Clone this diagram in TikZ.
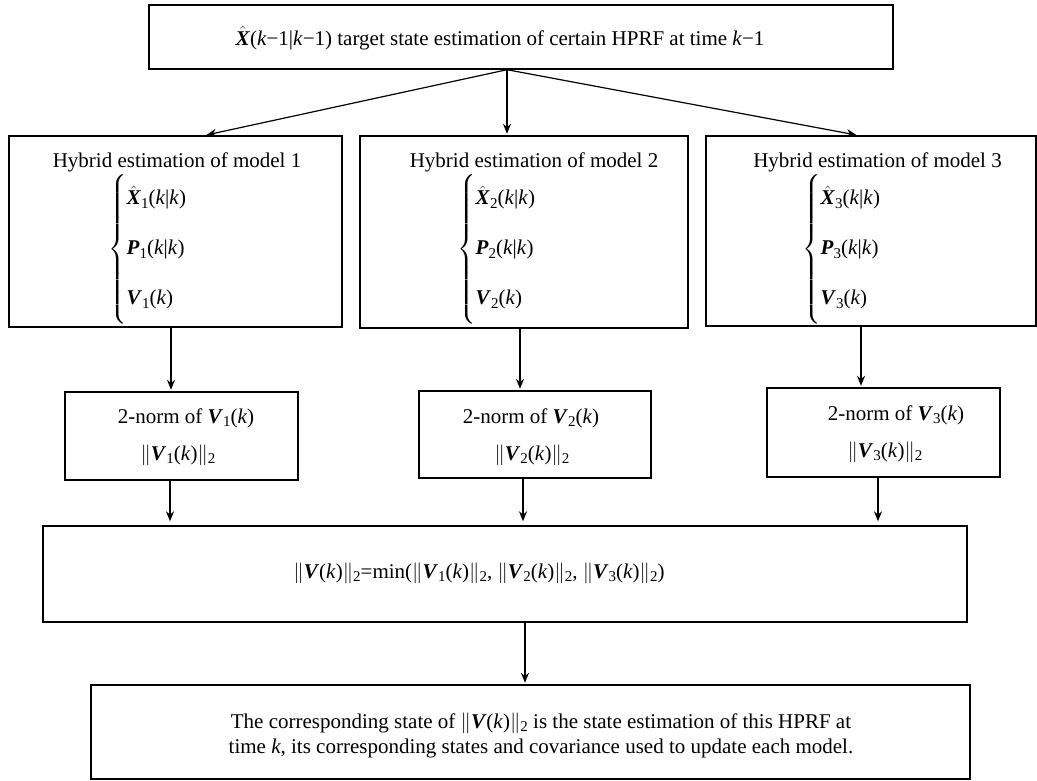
\documentclass[tikz,border=0pt]{standalone}
\usepackage{amsmath}
\usepackage{fontspec}
\setmainfont{Liberation Serif}
\usetikzlibrary{arrows.meta}
\newcommand\bvec[1]{\textbf{\textit{#1}}}
\newcommand\lsub[1]{\raisebox{-0.35ex}{\fontsize{15}{15}\selectfont #1}}
\newcommand\hX{\ensuremath{\hat{\mbox{\bvec{X}}}}}
\newcommand\nrm{\ensuremath{\|}}
\newcommand\ik{\textit{k}}
\newcommand\blist[1]{$\left\{\rule[-68pt]{0pt}{144pt}\begin{array}{@{}l@{}}\mbox{\hX\lsub{#1}(\ik|\ik)}\\[25pt]\mbox{\bvec{P}\lsub{#1}(\ik|\ik)}\\[25pt]\mbox{\bvec{V}\lsub{#1}(\ik)}\end{array}\right.$}
\newcommand\vn[1]{\nrm\bvec{V}\lsub{#1}(\ik)\nrm\lsub{2}}
\begin{document}
\begin{tikzpicture}[x=1pt,y=-1pt,font=\fontsize{21}{25}\selectfont,
  box/.style={draw,line width=1.4pt,inner sep=0pt},
  arr/.style={line width=1.2pt,-{Stealth[length=10pt,width=8pt]},shorten >=1.5pt},
  lbl/.style={anchor=base,inner sep=0pt},
  lst/.style={anchor=west,inner sep=0pt}]
\useasboundingbox (0,0) rectangle (1037,780);
% boxes
\node[box,minimum width=744,minimum height=64] (top) at (521,37) {};
\node[box,minimum width=333,minimum height=191] (m1) at (175.5,231.5) {};
\node[box,minimum width=328,minimum height=192] (m2) at (524,232) {};
\node[box,minimum width=330,minimum height=190] (m3) at (871,231) {};
\node[box,minimum width=233,minimum height=88] (n1) at (181.5,436) {};
\node[box,minimum width=232,minimum height=87] (n2) at (535,434.5) {};
\node[box,minimum width=233,minimum height=89] (n3) at (883.5,432.5) {};
\node[box,minimum width=924,minimum height=96] (mn) at (505,574) {};
\node[box,minimum width=879,minimum height=94] (fin) at (530.5,732) {};
% texts
\node[lbl] (ttop) at (500,45) {\hX(\ik−1|\ik−1) target state estimation of certain HPRF at time \ik−1};
\node[lbl] (t1) at (177,167) {Hybrid estimation of model 1};
\node[lbl] (t2) at (534,167) {Hybrid estimation of model 2};
\node[lbl] (t3) at (877.5,167) {Hybrid estimation of model 3};
\node[lst] (l1) at (108,249) {\blist{1}};
\node[lst] (l2) at (457,249) {\blist{2}};
\node[lst] (l3) at (802,249) {\blist{3}};
\node[lbl] (a1t) at (186,423) {2-norm of \bvec{V}\lsub{1}(\ik)};
\node[lbl] (b1t) at (178,460) {\vn{1}};
\node[lbl] (a2t) at (531,423) {2-norm of \bvec{V}\lsub{2}(\ik)};
\node[lbl] (b2t) at (532,460) {\vn{2}};
\node[lbl] (a3t) at (896,420) {2-norm of \bvec{V}\lsub{3}(\ik)};
\node[lbl] (b3t) at (885,457) {\vn{3}};
\node[lbl] (mnt) at (479,578) {\nrm\bvec{V}(\ik)\nrm\lsub{2}=min(\vn{1}, \vn{2}, \vn{3})};
\node[lbl] (f1) at (541,728) {The corresponding state of \nrm\bvec{V}(\ik)\nrm\lsub{2} is the state estimation of this HPRF at};
\node[lbl] (f2) at (541,753) {time \ik, its corresponding states and covariance used to update each model.};
% connectors
\coordinate (src) at ([xshift=-14]top.south);
\draw[arr] (src) -- ([xshift=29.5]m1.north);
\draw[arr] (src) -- ([xshift=-17]m2.north);
\draw[arr] (src) -- ([xshift=-13]m3.north);
\coordinate (a1) at ([xshift=-4.5]m1.south);
\coordinate (a2) at ([xshift=-4]m2.south);
\coordinate (a3) at ([xshift=-10]m3.south);
\draw[arr] (a1) -- (a1 |- n1.north);
\draw[arr] (a2) -- (a2 |- n2.north);
\draw[arr] (a3) -- (a3 |- n3.north);
\coordinate (b1) at ([xshift=-11.5]n1.south);
\coordinate (b2) at ([xshift=-12]n2.south);
\coordinate (b3) at ([xshift=-5.5]n3.south);
\draw[arr,shorten >=4pt] (b1) -- (b1 |- mn.north);
\draw[arr,shorten >=4pt] (b2) -- (b2 |- mn.north);
\draw[arr,shorten >=4pt] (b3) -- (b3 |- mn.north);
\coordinate (c1) at ([xshift=20]mn.south);
\draw[arr] (c1) -- (c1 |- fin.north);
\end{tikzpicture}
\end{document}
